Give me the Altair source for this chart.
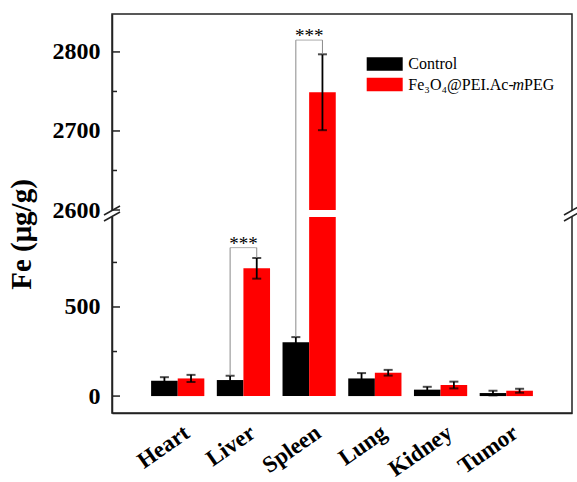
import altair as alt
import pandas as pd

# ---------------- data ----------------
organs = ["Heart", "Liver", "Spleen", "Lung", "Kidney", "Tumor"]
groups = ["Control", "Fe₃O₄@PEI.Ac-mPEG"]
colors = ["#000000", "#ff0000"]
control = [86, 90, 302, 99, 36, 17]
control_err = [20, 24, 29, 30, 16, 13]
treated = [99, 717, 2749, 131, 62, 30]
treated_err = [20, 58, 48, 16, 19, 11]
sig_organs = ["Liver", "Spleen"]
sig_top = [833, 2815]
major_ticks = [0, 500, 2600, 2700, 2800]
minor_ticks = [250, 750, 2650, 2750]
break_lo, break_hi = 1005, 2600
y_domain = [-95, break_lo, break_hi, 2848]

# ---------------- layout constants ----------------
W, H = 460, 399
y_range = [H, 203, 196, 0]
FONT = "Liberation Serif"

rows = []
for i, o in enumerate(organs):
    rows.append(dict(organ=o, group=groups[0], value=control[i],
                     lo=control[i] - control_err[i], hi=control[i] + control_err[i]))
    rows.append(dict(organ=o, group=groups[1], value=treated[i],
                     lo=treated[i] - treated_err[i], hi=treated[i] + treated_err[i]))
df = pd.DataFrame(rows)

sig_rows, sig_v = [], []
for o, t in zip(sig_organs, sig_top):
    i = organs.index(o)
    sig_v.append(dict(organ=o, group=groups[0], y1=control[i] + control_err[i], y2=t))
    sig_v.append(dict(organ=o, group=groups[1], y1=treated[i] + treated_err[i], y2=t))
    sig_rows.append(dict(organ=o, top=t))
sig_v = pd.DataFrame(sig_v)
sig_h = pd.DataFrame(sig_rows)

yscale = alt.Scale(domain=y_domain, range=y_range, nice=False, zero=False)
xscale = alt.Scale(domain=organs, paddingInner=0.19, paddingOuter=0.595)
xoff = alt.XOffset("group:N", scale=alt.Scale(domain=groups, paddingInner=0, paddingOuter=0))

x_axis = alt.Axis(labelAngle=325, labelAlign="right", labelBaseline="top",
                  labelFont=FONT, labelFontSize=23, labelFontWeight="bold",
                  labelColor="black", labelPadding=8, labelOffset=3,
                  ticks=False, tickSize=0, domain=True, domainColor="#222",
                  domainWidth=1.5, grid=False, title=None)
y_axis = alt.Axis(values=major_ticks, format="d", labelFont=FONT, labelFontSize=24,
                  labelFontWeight="bold", labelColor="black", labelPadding=12,
                  ticks=False, tickSize=0, domain=True, domainColor="#222",
                  domainWidth=1.5, grid=False,
                  title="Fe (μg/g)", titleFont=FONT, titleFontSize=29,
                  titleFontWeight="bold", titleColor="black",
                  titleX=-91, titleY=220, titleAngle=270,
                  titleAlign="center", titleBaseline="middle")


def Y(field):
    return alt.Y(field, scale=yscale, axis=y_axis)


X = alt.X("organ:N", sort=organs, scale=xscale, axis=x_axis)

bars = alt.Chart(df).mark_bar().encode(
    x=X, xOffset=xoff, y=Y("value:Q"),
    color=alt.Color("group:N", scale=alt.Scale(domain=groups, range=colors), legend=None),
)

gap = alt.Chart(pd.DataFrame({"lo": [break_lo], "hi": [break_hi]})).mark_rect(color="white").encode(
    x=alt.value(-3), x2=alt.value(W + 3), y=Y("lo:Q"), y2="hi:Q",
)

err = alt.Chart(df).mark_rule(color="black", strokeWidth=1.8).encode(
    x=X, xOffset=xoff, y=Y("lo:Q"), y2="hi:Q")
cap_hi = alt.Chart(df).mark_tick(color="black", thickness=2, size=9).encode(
    x=X, xOffset=xoff, y=Y("hi:Q"))
cap_lo = alt.Chart(df).mark_tick(color="black", thickness=2, size=9).encode(
    x=X, xOffset=xoff, y=Y("lo:Q"))

br_v = alt.Chart(sig_v).mark_rule(color="#8a8a8a", strokeWidth=1).encode(
    x=X, xOffset=xoff, y=Y("y1:Q"), y2="y2:Q")
br_h = alt.Chart(sig_h).mark_tick(color="#8a8a8a", thickness=1, size=26.6).encode(
    x=X, y=Y("top:Q"))
stars = alt.Chart(sig_h).mark_text(text="***", font=FONT, fontSize=19,
                                   baseline="alphabetic", dy=2, color="black").encode(
    x=X, y=Y("top:Q"))

tick_major = alt.Chart(pd.DataFrame({"v": major_ticks})).mark_rule(color="#222", strokeWidth=1.5).encode(
    y=Y("v:Q"), x=alt.value(0), x2=alt.value(8))
tick_minor = alt.Chart(pd.DataFrame({"v": minor_ticks})).mark_rule(color="#222", strokeWidth=1.5).encode(
    y=Y("v:Q"), x=alt.value(0), x2=alt.value(5))

one = pd.DataFrame({"a": [0]})
slashes = []
for cx in (0, W):
    for dy in (0, 6):
        slashes.append(alt.Chart(one).mark_rule(color="#222", strokeWidth=1.5).encode(
            x=alt.value(cx - 8), y=alt.value(201 + dy),
            x2=alt.value(cx + 8), y2=alt.value(192 + dy)))

leg = []
leg_y = [43.3, 63.7]
for g, c, ly in zip(groups, colors, leg_y):
    leg.append(alt.Chart(one).mark_rect(color=c).encode(
        x=alt.value(254.7), x2=alt.value(290.7), y=alt.value(ly), y2=alt.value(ly + 13.5)))
leg.append(alt.Chart(one).mark_text(text="Control", font=FONT, fontSize=16, align="left",
                                    baseline="middle", color="black").encode(
    x=alt.value(296.3), y=alt.value(50)))
leg.append(alt.Chart(one).mark_text(text="Fe₃O₄@PEI.Ac-", font=FONT, fontSize=16, align="left",
                                    baseline="middle", color="black").encode(
    x=alt.value(296.3), y=alt.value(71)))
leg.append(alt.Chart(one).mark_text(text="m", font=FONT, fontSize=16, fontStyle="italic",
                                    align="left", baseline="middle", color="black").encode(
    x=alt.value(400.5), y=alt.value(71)))
leg.append(alt.Chart(one).mark_text(text="PEG", font=FONT, fontSize=16, align="left",
                                    baseline="middle", color="black").encode(
    x=alt.value(412.1), y=alt.value(71)))

chart = alt.layer(
    bars, err, cap_hi, cap_lo, gap, br_v, br_h, stars,
    tick_major, tick_minor, *slashes, *leg
).properties(
    width=W, height=H,
    autosize=alt.AutoSizeParams(type="none"),
    padding={"left": 112, "top": 14, "right": 5, "bottom": 69},
).configure(
    background="white",
    view=alt.ViewConfig(stroke="#222", strokeWidth=1.5),
)

chart.save("out.html", embed_options={"renderer": "svg", "actions": False})
